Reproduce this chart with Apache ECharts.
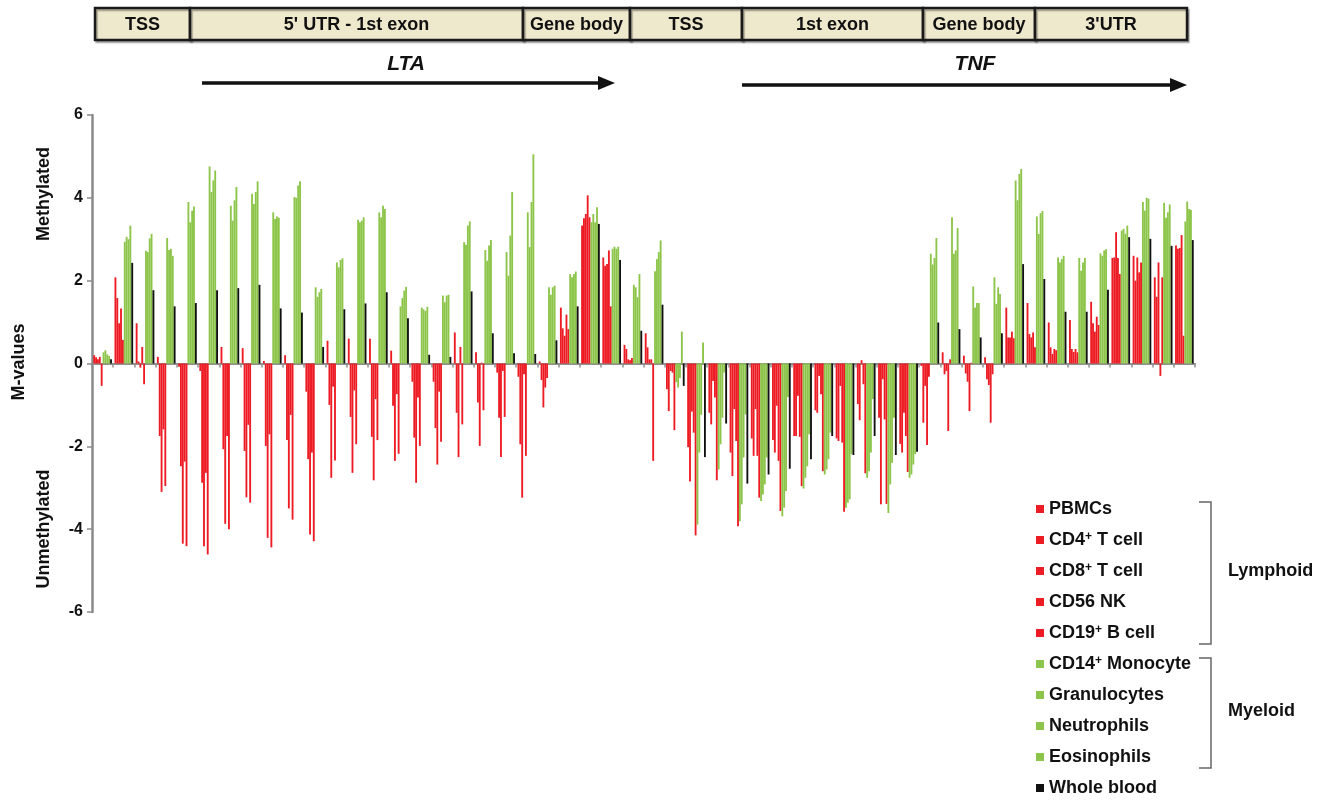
<!DOCTYPE html>
<html>
<head>
<meta charset="utf-8">
<script src="https://cdn.jsdelivr.net/npm/echarts@6/dist/echarts.min.js"></script>
<style>
  html, body { margin: 0; padding: 0; background: #ffffff; }
  #chart { width: 1332px; height: 802px; }
</style>
</head>
<body>
<div id="chart"></div>
<script>
// CpG sites across the LTA / TNF locus, in genomic order
const sites = [
  'cg01','cg02','cg03','cg04','cg05','cg06','cg07','cg08','cg09','cg10',
  'cg11','cg12','cg13','cg14','cg15','cg16','cg17','cg18','cg19','cg20',
  'cg21','cg22','cg23','cg24','cg25','cg26','cg27','cg28','cg29','cg30',
  'cg31','cg32','cg33','cg34','cg35','cg36','cg37','cg38','cg39','cg40',
  'cg41','cg42','cg43','cg44','cg45','cg46','cg47','cg48','cg49','cg50',
  'cg51','cg52'
];

// M-values per cell type (one value per CpG site)
const pbmc = [0.2,2.08,0.97,0.16,-0.08,-0.18,0.4,0.37,0.06,0.2,-0.68,0.55,0.6,0.6,0.31,-0.44,-0.44,0.75,0.27,-0.22,-0.32,0.05,1.35,3.33,2.56,0.45,0.73,-0.62,-2.02,-1.19,-2.15,-1.81,-1.85,-1.75,-1.13,-1.81,-0.98,-1.31,-1.94,-0.06,0.27,0.19,0.15,1.35,1.46,0.99,1.05,1.49,2.55,2.6,2.08,2.85];
const cd4 = [0.15,1.58,0.05,-1.75,-2.48,-2.88,-2.07,-2.11,-1.99,-1.85,-2.31,-1.0,-1.29,-1.77,-1.02,-1.79,-1.56,-1.19,-0.94,-1.31,-1.95,-0.4,0.85,3.51,2.36,0.35,0.39,-1.15,-2.85,-1.47,-2.72,-2.23,-2.15,-1.75,-1.19,-1.87,-1.37,-3.4,-2.15,-1.43,-0.26,-0.24,-0.38,0.63,0.71,0.39,0.35,0.97,2.56,2.0,1.61,2.77];
const cd8 = [0.1,0.97,-0.1,-3.1,-4.35,-4.41,-3.87,-3.23,-4.21,-3.5,-4.13,-2.76,-2.64,-2.82,-2.35,-2.88,-2.44,-2.26,-1.99,-2.26,-3.24,-1.06,0.67,3.61,2.4,0.1,0.1,-0.18,-1.16,-0.42,-1.1,-1.1,-1.02,-0.78,-0.3,-0.54,0.08,-0.38,-1.19,-0.54,-0.18,-0.44,-0.52,0.63,0.63,0.23,0.28,0.77,3.17,2.56,2.44,2.79];
const cd56 = [0.16,1.33,0.4,-1.59,-2.37,-2.64,-1.75,-1.48,-1.71,-1.24,-2.15,-0.56,-0.65,-0.86,-0.74,-0.82,-0.68,0.4,0.02,-0.18,-0.26,-0.58,1.18,4.06,2.73,0.08,0.1,-0.22,-1.67,-0.82,-1.87,-2.23,-2.35,-1.77,-0.74,-1.91,-0.5,-1.35,-1.75,-1.97,-1.63,-1.15,-1.43,0.77,0.75,0.35,0.35,1.13,2.55,2.2,-0.3,3.1];
const cd19 = [-0.54,0.57,-0.5,-2.96,-4.41,-4.61,-4.0,-3.36,-4.44,-3.77,-4.29,-2.34,-1.95,-1.85,-2.18,-1.99,-1.89,-1.47,-1.13,-1.29,-2.23,-0.35,0.83,3.53,1.38,0.13,-2.35,-1.61,-4.15,-2.82,-3.93,-3.24,-3.56,-2.96,-2.6,-3.58,-2.65,-3.39,-2.62,-0.32,0.1,0.02,-0.26,0.61,0.39,0.32,0.27,0.93,2.16,2.44,2.08,0.67];
const cd14 = [0.27,2.94,2.72,3.03,3.9,4.76,3.81,4.1,3.65,4.02,1.84,2.44,3.47,3.65,1.38,1.35,1.64,2.93,2.74,2.69,3.65,1.84,2.16,3.41,2.77,1.9,2.23,-0.45,-3.89,-2.56,-3.81,-3.32,-3.69,-3.02,-2.68,-3.48,-2.76,-3.61,-2.76,2.65,3.53,1.86,2.08,4.42,3.55,2.56,2.55,2.66,3.21,3.9,3.88,3.43];
const granulocytes = [0.32,3.06,2.69,2.74,3.41,4.14,3.45,3.85,3.49,4.0,1.61,2.32,3.41,3.53,1.58,1.31,1.48,2.87,2.48,2.12,2.81,1.66,2.08,3.61,2.82,1.84,2.52,-0.58,-2.15,-1.95,-3.4,-3.16,-3.48,-2.76,-2.56,-3.36,-2.6,-2.92,-2.68,2.39,2.65,1.35,1.44,3.94,3.13,2.44,2.24,2.6,3.25,3.69,3.52,3.91];
const neutrophils = [0.22,3.0,3.02,2.77,3.69,4.42,3.94,4.14,3.55,4.3,1.72,2.5,3.45,3.81,1.76,1.27,1.64,3.33,2.85,3.09,3.9,1.84,2.16,3.41,2.77,1.6,2.69,-0.35,-1.24,-1.31,-2.27,-2.92,-3.08,-2.48,-2.31,-3.28,-2.15,-2.4,-2.44,2.55,2.73,1.46,1.84,4.58,3.63,2.52,2.44,2.73,3.13,4.0,3.65,3.73];
const eosinophils = [0.18,3.33,3.13,2.6,3.79,4.66,4.26,4.4,3.52,4.4,1.8,2.54,3.53,3.73,1.85,1.37,1.66,3.43,2.98,4.14,5.05,1.88,2.22,3.77,2.82,2.16,2.97,0.77,0.51,-0.22,-1.23,-2.27,-0.81,-1.71,-1.67,-2.19,-0.86,-1.31,-2.19,3.03,3.27,1.46,1.68,4.7,3.68,2.6,2.55,2.76,3.33,3.98,3.84,3.71];
const wholeBlood = [0.1,2.43,1.77,1.38,1.46,1.77,1.82,1.9,1.33,1.23,0.4,1.31,1.45,1.72,1.09,0.21,0.16,1.74,0.73,0.25,0.23,0.56,1.38,3.37,2.5,0.79,1.42,-0.54,-2.26,-1.45,-2.9,-2.68,-2.54,-2.31,-1.75,-2.21,-1.75,-2.21,-2.13,0.99,0.83,0.63,0.73,2.4,2.04,1.25,1.25,1.78,3.05,3.01,2.84,2.98];

const yTicks = [-6, -4, -2, 0, 2, 4, 6];
const headerLabels = ['TSS', "5' UTR - 1st exon", 'Gene body', 'TSS', '1st exon', 'Gene body', "3'UTR"];
const geneNames = ['LTA', 'TNF'];

const RED = '#ED1C24';
const GREEN = '#8DC54B';
const BLACK = '#111111';
const FONT = '"Liberation Sans", Arial, Helvetica, sans-serif';

const cellSeries = [
  { name: 'PBMCs', data: pbmc, color: RED },
  { name: 'CD4+ T cell', data: cd4, color: RED },
  { name: 'CD8+ T cell', data: cd8, color: RED },
  { name: 'CD56 NK', data: cd56, color: RED },
  { name: 'CD19+ B cell', data: cd19, color: RED },
  { name: 'CD14+ Monocyte', data: cd14, color: GREEN },
  { name: 'Granulocytes', data: granulocytes, color: GREEN },
  { name: 'Neutrophils', data: neutrophils, color: GREEN },
  { name: 'Eosinophils', data: eosinophils, color: GREEN },
  { name: 'Whole blood', data: wholeBlood, color: BLACK }
];

// Layout of the genomic annotation strip above the plot (pixel edges)
const headerEdges = [95, 190, 523, 630, 742, 923, 1035, 1187];
const headerTop = 8, headerHeight = 32;

const graphics = [];
headerLabels.forEach((label, i) => {
  const x0 = headerEdges[i], x1 = headerEdges[i + 1];
  graphics.push({
    type: 'rect',
    shape: { x: x0, y: headerTop, width: x1 - x0, height: headerHeight },
    style: { fill: '#EEE8CC', stroke: '#1a1a1a', lineWidth: 2.5,
             shadowColor: 'rgba(0,0,0,0.3)', shadowOffsetX: 1.5, shadowOffsetY: 2, shadowBlur: 1 }
  });
});
headerLabels.forEach((label, i) => {
  const x0 = headerEdges[i], x1 = headerEdges[i + 1];
  graphics.push({
    type: 'text',
    style: {
      text: label, x: (x0 + x1) / 2, y: headerTop + headerHeight / 2 + 1,
      align: 'center', verticalAlign: 'middle',
      font: 'bold 18px ' + FONT, fill: '#111'
    }
  });
});

// Gene names with transcription-direction arrows
const genePos = [
  { cx: 406, ty: 64, x0: 202, x1: 615, ay: 83 },
  { cx: 975, ty: 64, x0: 742, x1: 1187, ay: 85 }
];
geneNames.forEach((g, i) => {
  const p = genePos[i];
  graphics.push({
    type: 'text',
    style: { text: g, x: p.cx, y: p.ty, align: 'center', verticalAlign: 'middle',
             font: 'italic bold 21px ' + FONT, fill: '#111' }
  });
  graphics.push({
    type: 'line',
    shape: { x1: p.x0, y1: p.ay, x2: p.x1 - 14, y2: p.ay },
    style: { stroke: '#111', lineWidth: 3.5 }
  });
  graphics.push({
    type: 'polygon',
    shape: { points: [[p.x1 - 17, p.ay - 7], [p.x1, p.ay], [p.x1 - 17, p.ay + 7]] },
    style: { fill: '#111' }
  });
});

// Y-axis titles
[
  { text: 'M-values', x: 19, y: 362 },
  { text: 'Methylated', x: 44, y: 194 },
  { text: 'Unmethylated', x: 44, y: 529 }
].forEach(t => {
  graphics.push({
    type: 'text', x: t.x, y: t.y, rotation: Math.PI / 2,
    style: { text: t.text, x: 0, y: 0, align: 'center', verticalAlign: 'middle',
             font: 'bold 18px ' + FONT, fill: '#111' }
  });
});

// Lineage brackets beside the legend
[
  { top: 502, bottom: 644, label: 'Lymphoid', ly: 571 },
  { top: 658, bottom: 768, label: 'Myeloid', ly: 711 }
].forEach(b => {
  graphics.push({
    type: 'polyline',
    shape: { points: [[1199, b.top], [1211, b.top], [1211, b.bottom], [1199, b.bottom]] },
    style: { stroke: '#666', lineWidth: 1.5, fill: null }
  });
  graphics.push({
    type: 'text',
    style: { text: b.label, x: 1228, y: b.ly, align: 'left', verticalAlign: 'middle',
             font: 'bold 18px ' + FONT, fill: '#111' }
  });
});

const chart = echarts.init(document.getElementById('chart'), null, { renderer: 'canvas' });

chart.setOption({
  backgroundColor: '#ffffff',
  animation: false,
  grid: { left: 92, right: 137, top: 115, bottom: 190, containLabel: false },
  xAxis: {
    type: 'category',
    data: sites,
    axisLine: { onZero: true, lineStyle: { color: '#909090', width: 2 } },
    axisTick: { show: true, interval: 0, length: 4, lineStyle: { color: '#909090', width: 1.5 } },
    axisLabel: { show: false },
    splitLine: { show: false }
  },
  yAxis: {
    type: 'value',
    min: yTicks[0],
    max: yTicks[yTicks.length - 1],
    interval: 2,
    axisLine: { show: true, lineStyle: { color: '#8a8a8a', width: 2.5 } },
    axisTick: { show: true, length: 5, lineStyle: { color: '#8a8a8a', width: 1.5 } },
    axisLabel: { fontFamily: FONT, fontWeight: 'bold', fontSize: 16, color: '#111', margin: 9 },
    splitLine: { show: false }
  },
  legend: {
    orient: 'vertical',
    left: 1031,
    top: 495,
    height: 320,
    icon: 'rect',
    itemWidth: 8,
    itemHeight: 8,
    itemGap: 13,
    selectedMode: false,
    data: cellSeries.map(s => s.name),
    formatter: name => name.replace('+', '{sup|+}'),
    textStyle: {
      fontFamily: FONT, fontWeight: 'bold', fontSize: 18, color: '#111', lineHeight: 18,
      rich: {
        sup: { fontFamily: FONT, fontWeight: 'bold', fontSize: 12, color: '#111',
               verticalAlign: 'top', lineHeight: 10 }
      }
    }
  },
  series: cellSeries.map(s => ({
    name: s.name,
    type: 'bar',
    data: s.data,
    itemStyle: { color: s.color },
    barGap: '0%',
    barCategoryGap: '12%'
  })),
  graphic: graphics
});
</script>
</body>
</html>
